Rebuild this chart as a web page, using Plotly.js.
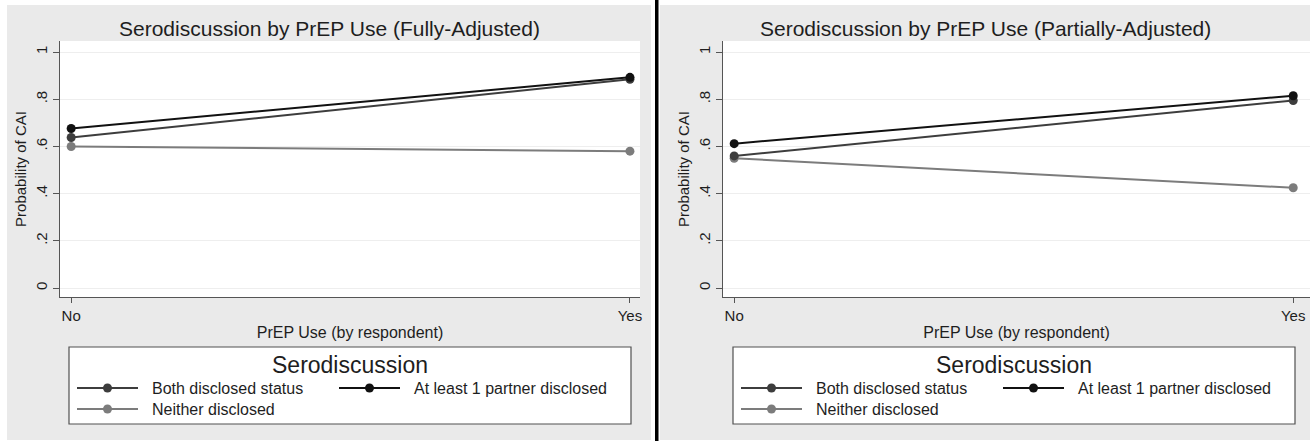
<!DOCTYPE html>
<html>
<head>
<meta charset="utf-8">
<script src="https://cdn.plot.ly/plotly-3.0.1.min.js"></script>
<style>html,body{margin:0;padding:0;background:#fff;}#chart{width:1310px;height:441px;}</style>
</head>
<body>
<div id="chart"></div>
<script>
// ---- data ----
const prepUse = ['No', 'Yes'];
const seriesNames = ['Both disclosed status', 'At least 1 partner disclosed', 'Neither disclosed'];
const panelTitles = ['Serodiscussion by PrEP Use (Fully-Adjusted)', 'Serodiscussion by PrEP Use (Partially-Adjusted)'];
const legendTitle = 'Serodiscussion';
const xTitle = 'PrEP Use (by respondent)';
const yTitle = 'Probability of CAI';
const yTickVals = [0, 0.2, 0.4, 0.6, 0.8, 1];
const yTickText = ['0', '.2', '.4', '.6', '.8', '1'];

const fullyBoth = [0.638, 0.885];
const fullyAtLeast1 = [0.676, 0.893];
const fullyNeither = [0.600, 0.580];

const partialBoth = [0.560, 0.795];
const partialAtLeast1 = [0.612, 0.815];
const partialNeither = [0.550, 0.425];

const seriesColors = ['#3d3d3d', '#111111', '#7c7c7c'];

// ---- layout helpers (pixel -> paper) ----
const W = 1310, H = 441;
const px = x => x / W;
const py = y => 1 - y / H;
const FONT = 'Liberation Sans, Arial, Helvetica, sans-serif';
const TXT = '#1e1e1e';
const AX = '#555555';

const panels = [
  {vals: [fullyBoth, fullyAtLeast1, fullyNeither], xa: 'x', ya: 'y', dx: 0},
  {vals: [partialBoth, partialAtLeast1, partialNeither], xa: 'x2', ya: 'y2', dx: 664}
];

const traces = [];
const drawOrder = [2, 0, 1];
panels.forEach(p => {
  drawOrder.forEach(i => {
    traces.push({
      type: 'scatter', mode: 'lines+markers',
      x: prepUse, y: p.vals[i], name: seriesNames[i],
      xaxis: p.xa, yaxis: p.ya, showlegend: false,
      line: {color: seriesColors[i], width: 2},
      marker: {color: seriesColors[i], size: 9},
      hoverinfo: 'x+y+name'
    });
  });
});

function xAxis(domain, range) {
  return {
    domain: domain, type: 'category', range: range, showgrid: false, zeroline: false,
    showline: true, linecolor: AX, linewidth: 1, ticks: 'outside', ticklen: 5, tickcolor: AX,
    tickfont: {family: FONT, size: 15, color: TXT}, fixedrange: true,
    title: {text: xTitle, font: {family: FONT, size: 16, color: TXT}, standoff: 3}
  };
}
function yAxis(domain, anchor) {
  return {
    domain: domain, anchor: anchor, range: [-0.038, 1.047], tickvals: yTickVals, ticktext: yTickText,
    tickangle: -90, showgrid: true, gridcolor: '#eeeeee', gridwidth: 1, zeroline: false,
    showline: true, linecolor: AX, linewidth: 1, ticks: 'outside', ticklen: 6, tickcolor: AX,
    tickfont: {family: FONT, size: 15, color: TXT}, fixedrange: true,
    title: {text: yTitle, font: {family: FONT, size: 15, color: TXT}, standoff: 2}
  };
}

const yDom = [py(297), py(41)];
const shapes = [
  {type: 'rect', xref: 'paper', yref: 'paper', x0: px(7), x1: px(651), y0: py(440), y1: py(5), fillcolor: '#eaeaea', line: {width: 0}, layer: 'below'},
  {type: 'rect', xref: 'paper', yref: 'paper', x0: px(660), x1: px(1310), y0: py(440), y1: py(5), fillcolor: '#eaeaea', line: {width: 0}, layer: 'below'},
  {type: 'rect', xref: 'paper', yref: 'paper', x0: px(60), x1: px(640), y0: py(297), y1: py(41), fillcolor: '#ffffff', line: {width: 0}, layer: 'below'},
  {type: 'rect', xref: 'paper', yref: 'paper', x0: px(723), x1: px(1310), y0: py(297), y1: py(41), fillcolor: '#ffffff', line: {width: 0}, layer: 'below'},
  {type: 'rect', xref: 'paper', yref: 'paper', x0: px(655), x1: px(658.5), y0: 0, y1: 1, fillcolor: '#000000', line: {width: 0}}
];
const annotations = [];

const entryPos = [{lx: 77, ly: 388}, {lx: 339, ly: 388}, {lx: 77, ly: 409}];
panels.forEach((p, k) => {
  const dx = p.dx;
  const panelCenter = k === 0 ? 329 : 985;
  annotations.push({xref: 'paper', yref: 'paper', x: px(panelCenter), y: py(28), text: panelTitles[k],
    showarrow: false, xanchor: 'center', yanchor: 'middle', font: {family: FONT, size: 21, color: TXT}});
  // legend box
  shapes.push({type: 'rect', xref: 'paper', yref: 'paper', x0: px(69 + dx), x1: px(631 + dx), y0: py(424), y1: py(347),
    fillcolor: '#ffffff', line: {color: '#505050', width: 1.2}});
  annotations.push({xref: 'paper', yref: 'paper', x: px(350 + dx), y: py(365), text: legendTitle,
    showarrow: false, xanchor: 'center', yanchor: 'middle', font: {family: FONT, size: 23, color: TXT}});
  seriesNames.forEach((name, i) => {
    const e = entryPos[i];
    const lx = e.lx + dx;
    shapes.push({type: 'line', xref: 'paper', yref: 'paper', x0: px(lx), x1: px(lx + 61), y0: py(e.ly), y1: py(e.ly),
      line: {color: seriesColors[i], width: 2}});
    shapes.push({type: 'circle', xref: 'paper', yref: 'paper', x0: px(lx + 26), x1: px(lx + 35), y0: py(e.ly + 4.5), y1: py(e.ly - 4.5),
      fillcolor: seriesColors[i], line: {width: 0}});
    annotations.push({xref: 'paper', yref: 'paper', x: px(lx + 73), y: py(e.ly), text: name,
      showarrow: false, xanchor: 'left', yanchor: 'middle', font: {family: FONT, size: 16, color: TXT}});
  });
});

const layout = {
  width: W, height: H, margin: {l: 0, r: 0, t: 0, b: 0},
  paper_bgcolor: '#ffffff', plot_bgcolor: '#ffffff', showlegend: false,
  font: {family: FONT, color: TXT},
  xaxis: xAxis([px(60), px(640)], [-0.02, 1.018]),
  yaxis: yAxis(yDom, 'x'),
  xaxis2: Object.assign(xAxis([px(723), 1], [-0.02, 1.03]), {anchor: 'y2'}),
  yaxis2: yAxis(yDom, 'x2'),
  shapes: shapes, annotations: annotations
};

Plotly.newPlot('chart', traces, layout, {displayModeBar: false, staticPlot: true});
</script>
</body>
</html>
